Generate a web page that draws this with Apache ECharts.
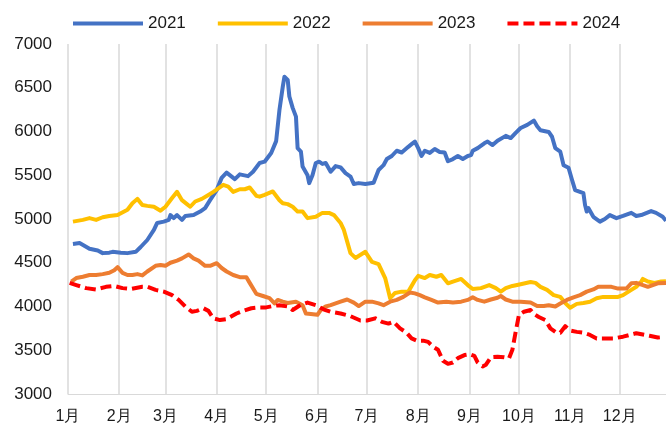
<!DOCTYPE html>
<html>
<head>
<meta charset="utf-8">
<script src="https://cdn.jsdelivr.net/npm/echarts@6/dist/echarts.min.js"></script>
<style>
html,body{margin:0;padding:0;background:#fff;}
#chart{width:666px;height:435px;}
</style>
</head>
<body>
<div id="chart"></div>
<script>
// Tick labels
var monthLabels = ['1月','2月','3月','4月','5月','6月','7月','8月','9月','10月','11月','12月'];
var monthDays = [31,28,31,30,31,30,31,31,30,31,30,31];
var seriesNames = ['2021','2022','2023','2024'];

// 2021 (day of year, value)
var d2021 = [3,7,13,18,21,25,27,32,36,41,44,48,52,54,58,61,62,64,66,69,71,76,80,83,86,90,93,96,101,104,109,112,116,119,123,126,128,130,131,133,134,136,138,139,141,142,145,146,148,150,152,154,156,159,162,165,168,171,173,176,180,185,188,191,193,196,199,202,206,208,210,212,214,216,219,222,225,228,230,233,236,239,242,244,245,248,252,254,257,260,265,268,271,274,278,282,284,286,291,293,295,298,300,303,305,307,312,313,314,315,318,322,325,328,332,336,341,344,347,353,356,360,362];
var v2021 = [4715,4725,4660,4640,4610,4615,4625,4615,4610,4625,4680,4760,4875,4955,4970,4990,5045,5010,5045,4990,5035,5045,5085,5125,5215,5330,5470,5530,5455,5510,5490,5540,5640,5655,5755,5890,6245,6510,6625,6590,6400,6270,6170,5810,5770,5600,5500,5410,5500,5640,5655,5630,5640,5540,5605,5590,5525,5485,5400,5410,5400,5415,5560,5615,5685,5720,5780,5760,5825,5855,5885,5810,5720,5780,5755,5800,5765,5760,5660,5685,5720,5685,5720,5730,5780,5810,5865,5885,5845,5895,5950,5925,5985,6040,6075,6125,6060,6015,5995,5940,5810,5770,5615,5585,5455,5330,5295,5160,5085,5125,5025,4970,5000,5045,5010,5035,5070,5035,5045,5090,5070,5025,4980];

// 2022
var d2022 = [3,9,13,17,21,25,30,36,39,42,45,48,52,56,59,63,66,69,72,74,77,81,85,88,91,94,97,100,104,107,110,114,116,119,124,128,130,133,136,139,142,145,150,154,158,161,165,167,171,174,180,184,188,192,195,198,202,206,210,212,216,219,223,226,230,233,238,242,245,250,255,259,262,265,269,274,280,283,286,290,294,298,301,304,308,312,316,320,324,328,333,336,341,344,347,348,351,355,359,362];
var v2022 = [4970,4990,5010,4990,5020,5035,5045,5105,5180,5230,5160,5150,5140,5095,5140,5240,5310,5215,5170,5140,5200,5230,5275,5310,5350,5390,5370,5310,5340,5340,5360,5265,5255,5275,5315,5215,5180,5170,5140,5085,5085,5010,5025,5070,5070,5045,4955,4875,4610,4555,4625,4510,4485,4325,4095,4155,4170,4170,4300,4350,4325,4360,4340,4360,4265,4285,4315,4245,4200,4210,4245,4210,4170,4210,4235,4255,4280,4270,4225,4190,4130,4110,4040,3985,4030,4040,4055,4095,4110,4110,4110,4130,4190,4225,4285,4315,4285,4270,4285,4290];

// 2023
var d2023 = [2,5,9,13,17,21,25,28,30,33,36,39,42,45,48,53,56,59,62,66,69,73,76,79,83,86,90,93,96,100,104,108,110,114,118,122,125,127,130,133,138,142,144,147,151,153,156,159,162,165,169,173,176,180,184,188,191,195,199,203,207,210,213,216,220,224,229,233,238,242,245,248,252,256,260,262,265,269,274,280,284,288,291,295,298,302,306,310,314,318,321,325,329,333,338,341,344,348,351,354,357,362];
var v2023 = [4285,4325,4340,4360,4360,4370,4385,4415,4450,4385,4360,4360,4370,4355,4400,4465,4475,4465,4500,4525,4550,4595,4550,4525,4465,4465,4495,4440,4400,4360,4335,4335,4270,4145,4120,4095,4035,4075,4055,4040,4055,4015,3920,3915,3905,3960,4000,4015,4035,4055,4080,4045,4005,4055,4055,4035,4015,4055,4075,4110,4160,4150,4130,4105,4075,4045,4055,4045,4055,4075,4105,4075,4055,4080,4100,4120,4080,4055,4055,4045,4005,4005,4015,4000,4035,4075,4105,4130,4170,4195,4225,4225,4225,4205,4205,4265,4270,4245,4225,4245,4265,4270];

// 2024
var d2024 = [1,5,11,17,23,28,33,38,45,48,53,58,63,67,71,75,78,82,85,88,92,96,102,106,111,116,120,124,128,133,136,141,145,150,155,159,165,171,177,181,186,190,194,197,201,205,208,211,215,218,221,224,227,230,233,236,240,243,246,248,251,253,256,260,264,267,269,271,273,276,280,282,285,289,292,295,298,301,304,308,312,316,320,325,330,336,340,344,348,352,357,360];
var v2024 = [4270,4245,4210,4195,4225,4235,4210,4200,4225,4225,4190,4170,4130,4075,4000,3940,3950,3980,3950,3865,3845,3855,3920,3950,3980,3990,3990,4005,4015,4000,3960,4020,4045,4015,3965,3940,3920,3890,3840,3840,3865,3825,3805,3825,3750,3700,3635,3610,3610,3595,3540,3505,3380,3345,3360,3410,3445,3455,3435,3360,3315,3335,3420,3425,3420,3410,3505,3710,3905,3940,3960,3915,3880,3845,3750,3710,3700,3775,3725,3710,3700,3675,3635,3635,3635,3655,3675,3695,3680,3665,3645,3650];

// Build categories (days of year) and month-start indices
var categories = [];
var monthStart = {};
var idx = 0;
for (var m = 0; m < 12; m++) {
  monthStart[idx] = monthLabels[m];
  for (var d = 1; d <= monthDays[m]; d++) {
    categories.push((m + 1) + '-' + d);
    idx++;
  }
}
function zip(ds, vs) { return ds.map(function (d, i) { return [d, vs[i]]; }); }

var colors = ['#4472C4', '#FFC000', '#ED7D31', '#FF0000'];
var dayArrays = [d2021, d2022, d2023, d2024];
var valArrays = [v2021, v2022, v2023, v2024];

var series = seriesNames.map(function (name, i) {
  return {
    name: name,
    type: 'line',
    data: zip(dayArrays[i], valArrays[i]),
    symbol: 'none',
    smooth: false,
    lineStyle: {
      color: colors[i],
      width: 4,
      type: i === 3 ? [11, 5] : 'solid',
      cap: 'butt',
      join: 'round'
    },
    itemStyle: { color: colors[i] }
  };
});

var chart = echarts.init(document.getElementById('chart'), null, { renderer: 'canvas' });
chart.setOption({
  animation: false,
  backgroundColor: '#ffffff',
  textStyle: { fontFamily: 'Liberation Sans, Arial, sans-serif' },
  color: colors,
  legend: {
    data: seriesNames,
    left: 66,
    top: 10,
    itemWidth: 70,
    itemHeight: 14,
    itemGap: 30,
    itemStyle: { opacity: 0 },
    lineStyle: { width: 4 },
    textStyle: { fontSize: 17, color: '#1a1a1a', fontFamily: 'Liberation Sans, Arial, sans-serif' }
  },
  grid: { left: 68, right: 0, top: 44, bottom: 41, containLabel: false },
  xAxis: {
    type: 'category',
    data: categories,
    boundaryGap: false,
    max: 362,
    axisLine: { show: true, lineStyle: { color: '#d9d9d9', width: 1 } },
    axisTick: { show: false },
    axisLabel: {
      interval: function (index) { return monthStart.hasOwnProperty(index); },
      formatter: function (value, index) { return monthStart[index] || ''; },
      fontSize: 16,
      color: '#1a1a1a',
      margin: 15,
      fontFamily: 'Liberation Sans, Arial, sans-serif'
    },
    splitLine: {
      show: true,
      interval: function (index) { return monthStart.hasOwnProperty(index); },
      lineStyle: { color: '#d9d9d9', width: 1.5 }
    }
  },
  yAxis: {
    type: 'value',
    min: 3000,
    max: 7000,
    interval: 500,
    axisLine: { show: false },
    axisTick: { show: false },
    splitLine: { show: false },
    axisLabel: {
      formatter: function (v) { return String(v); },
      fontSize: 17,
      color: '#1a1a1a',
      margin: 16,
      fontFamily: 'Liberation Sans, Arial, sans-serif'
    }
  },
  series: series
});
</script>
</body>
</html>
